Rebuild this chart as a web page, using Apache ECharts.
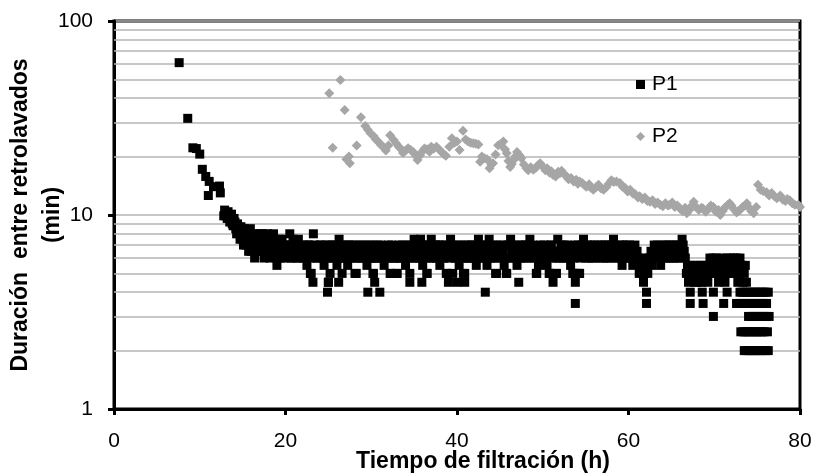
<!DOCTYPE html>
<html><head><meta charset="utf-8">
<script src="https://cdn.jsdelivr.net/npm/echarts@6/dist/echarts.min.js"></script>
<style>html,body{margin:0;padding:0;background:#fff}#c{width:817px;height:474px}</style>
</head><body><div id="c"></div>
<script>
const xTicks = [0, 20, 40, 60, 80];
const yTicks = [1, 10, 100];
const minorGrid = [2, 3, 4, 5, 6, 7, 8, 9, 20, 30, 40, 50, 60, 70, 80, 90];
const seriesNames = ['P1', 'P2'];
const xTitle = 'Tiempo de filtración (h)';
const yTitle = 'Duración  entre retrolavados\n(min)';

// P1: [time h, duration min]
const p1Early = [[7.6,61],[8.6,31.5],[9.2,22.2],[9.6,22],[10.0,20.6],[10.3,17.2],[10.7,15.8],[11.0,12.6],[11.1,14.9],[11.6,14.0],[12.3,14.1],[12.4,13.0],[12.8,9.9],[12.9,10.6]];
const p1Start = [[13.0,10.3],[13.2,9.6],[13.4,10.0],[13.6,9.5],[13.8,9.0],[14.0,9.6],[14.2,8.5],[14.4,9.0],[14.6,8.0],[14.8,8.7],[15.0,7.5],[15.2,8.5],[15.4,7.0],[15.6,8.0],[15.8,7.5],[16.0,6.5],[16.2,8.0],[16.4,6.0],[16.6,7.5],[16.8,8.0],[17.0,7.0],[17.2,6.5],[17.4,8.0],[17.6,7.0],[17.8,6.5],[18.0,7.5],[18.2,6.0],[18.4,7.0],[18.6,8.0],[18.8,6.5],[19.0,5.5],[19.2,7.0],[19.4,6.0],[19.6,7.5],[19.8,6.5],
[13.1,9.9],[13.3,10.4],[13.5,9.2],[13.7,10.1],[13.9,8.8],[14.1,9.2],[14.3,8.0],[14.5,8.7],[14.7,7.5],[14.9,8.0],[15.1,7.0],[15.3,8.0],[15.5,7.5],[15.7,6.5],[15.9,8.5],[16.1,7.0],[16.3,7.5],[16.5,6.5],[16.7,7.0],[16.9,6.5],[17.1,8.0],[17.3,7.5],[17.5,6.0],[17.7,7.5],[17.9,8.0],[18.1,6.5],[18.3,7.5],[18.5,6.5],[18.7,7.0],[18.9,6.0],[19.1,6.5],[19.3,7.5],[19.5,6.5],[19.7,6.0],[19.9,7.0]];
const p1Band = [[20.0,7],[20.25,6.5],[20.5,8],[20.75,6],[21.0,7],[21.25,6.5],[21.5,7.5],[21.75,6],[22.0,6.5],[22.25,7],[22.5,5.5],[22.75,7],[23.0,5],[23.25,8],[23.5,6.5],[23.75,6],[24.0,7],[24.25,6.5],[24.5,5.5],[24.75,7],[25.0,4.5],[25.25,6],[25.5,7],[25.75,6.5],[26.0,5.5],[26.25,7.5],[26.5,6],[26.75,6.5],[27.0,7],[27.25,5.5],[27.5,6.5],[27.75,7],[28.0,6],[28.25,5],[28.5,6.5],[28.75,7],[29.0,6],[29.25,6.5],[29.5,5.5],[29.75,7],[30.0,6],[30.25,5],[30.5,6.5],[30.75,7],[31.0,6],[31.25,6.5],[31.5,5.5],[31.75,6.5],[32.0,7],[32.25,5],[32.5,6],[32.75,6.5],[33.0,5],[33.25,7],[33.5,6],[33.75,6.5],[34.0,5.5],[34.25,7],[34.5,5],[34.75,6.5],[35.0,7.5],[35.25,6],[35.5,7],[35.75,7.5],[36.0,5.5],[36.25,7],[36.5,5],[36.75,6.5],[37.0,7.5],[37.25,6],[37.5,7],[37.75,6.5],[38.0,5.5],[38.25,7],[38.5,6],[38.75,5],[39.0,6.5],[39.25,7.5],[39.5,5],[39.75,6],[40.0,7],[40.25,5.5],[40.5,6.5],[40.75,5],[41.0,7],[41.25,6],[41.5,6.5],[41.75,7],[42.0,6],[42.25,5.5],[42.5,7.5],[42.75,6.5],[43.0,6],[43.25,7],[43.5,5.5],[43.75,7.5],[44.0,6.5],[44.25,6],[44.5,5],[44.75,7],[45.0,6.5],[45.25,6],[45.5,5.5],[45.75,5],[46.0,7],[46.25,7.5],[46.5,6],[46.75,6.5],[47.0,5.5],[47.25,7],[47.5,6.5],[47.75,6],[48.0,7],[48.25,6.5],[48.5,7.5],[48.75,6],[49.0,6.5],[49.25,5],[49.5,5.5],[49.75,7],[50.0,6],[50.25,6.5],[50.5,5.5],[50.75,5],[51.0,7],[51.25,6.5],[51.5,5],[51.75,7.5],[52.0,6],[52.25,6.5],[52.5,7],[52.75,6],[53.0,6.5],[53.25,5.5],[53.5,5],[53.75,7],[54.0,5],[54.25,5],[54.5,6.5],[54.75,7.5],[55.0,6],[55.25,7],[55.5,6.5],[55.75,6],[56.0,7],[56.25,6.5],[56.5,7],[56.75,6],[57.0,6.5],[57.25,7],[57.5,6],[57.75,6.5],[58.0,7],[58.25,7.5],[58.5,6],[58.75,6.5],[59.0,7],[59.25,5.5],[59.5,6.5],[59.75,7],[60.0,6],[60.25,6.5],[60.5,5.5],[60.75,7],[61.0,6.5],[61.25,5],[61.5,6],[61.75,4.5],[62.0,5.5]];
const p1Fill = [[20.125,6.5],[20.375,7],[20.625,6],[20.875,7.5],[21.125,6.5],[21.375,6],[21.625,7],[21.875,6.5],[22.125,6],[22.375,6.5],[22.625,7],[22.875,6],[23.125,6.5],[23.375,7],[23.625,6],[23.875,6.5],[24.125,7],[24.375,6],[24.625,6.5],[24.875,6],[25.125,7],[25.375,6.5],[25.625,6],[25.875,7],[26.125,6.5],[26.375,6],[26.625,7],[26.875,6],[27.125,6.5],[27.375,7],[27.625,6],[27.875,6.5],[28.125,7],[28.375,6],[28.625,6.5],[28.875,6],[29.125,7],[29.375,6],[29.625,6.5],[29.875,6],[30.125,7],[30.375,6],[30.625,6],[30.875,6.5],[31.125,7],[31.375,6],[31.625,6.5],[31.875,6],[32.125,6.5],[32.375,7],[32.625,6],[32.875,6],[33.125,6.5],[33.375,6],[33.625,7],[33.875,6],[34.125,6.5],[34.375,6],[34.625,7],[34.875,6],[35.125,6.5],[35.375,7],[35.625,6],[35.875,6.5],[36.125,7],[36.375,6],[36.625,7],[36.875,6],[37.125,6.5],[37.375,7],[37.625,6],[37.875,7],[38.125,6.5],[38.375,6],[38.625,7],[38.875,6.5],[39.125,6],[39.375,7],[39.625,6.5],[39.875,6],[40.125,6.5],[40.375,7],[40.625,6],[40.875,6.5],[41.125,6],[41.375,7],[41.625,6],[41.875,6.5],[42.125,7],[42.375,6],[42.625,6.5],[42.875,7],[43.125,6],[43.375,6.5],[43.625,7],[43.875,6],[44.125,7],[44.375,6.5],[44.625,6],[44.875,6.5],[45.125,7],[45.375,6.5],[45.625,6],[45.875,7],[46.125,6],[46.375,6.5],[46.625,7],[46.875,6],[47.125,6.5],[47.375,6],[47.625,7],[47.875,6.5],[48.125,6],[48.375,7],[48.625,6.5],[48.875,7],[49.125,6],[49.375,6.5],[49.625,6],[49.875,6.5],[50.125,7],[50.375,6],[50.625,6.5],[50.875,7],[51.125,6],[51.375,6.5],[51.625,6],[51.875,6.5],[52.125,7],[52.375,6],[52.625,6.5],[52.875,7],[53.125,6],[53.375,6.5],[53.625,6],[53.875,6.5],[54.125,7],[54.375,6],[54.625,7],[54.875,6.5],[55.125,6.5],[55.375,6],[55.625,7],[55.875,6.5],[56.125,6],[56.375,6.5],[56.625,6.5],[56.875,7],[57.125,6],[57.375,6.5],[57.625,7],[57.875,6],[58.125,6.5],[58.375,7],[58.625,6.5],[58.875,6],[59.125,6.5],[59.375,7],[59.625,6],[59.875,6.5],[60.125,7],[60.375,6],[60.625,6.5],[60.875,6],[61.125,6],[61.375,5.5],[61.625,5],[61.875,5]];
const p1Low = [[23.2,4.5],[25.0,4.5],[26.2,4.5],[30.4,4.5],[34.5,4.5],[35.9,4.5],[39.0,4.5],[40.0,4.5],[40.9,4.5],[47.2,4.5],[51.2,4.5],[53.8,4.5],[24.9,4],[29.6,4],[31.0,4],[43.3,4],[53.8,3.5],[22.9,5],[25.2,5],[26.6,5],[28.1,5],[30.2,5],[32.2,5],[33.0,5],[36.5,5],[38.9,5],[40.9,5],[44.6,5],[45.8,5],[49.3,5],[50.8,5],[51.6,5],[53.6,5],[54.3,5],[61.6,5.5],[62.1,4],[62.1,3.5]];
const p1End = [[62.25,5],[62.5,6],[62.75,5.5],[63.0,7],[63.25,6],[63.5,6.5],[63.75,5.5],[64.0,7],[64.25,6.5],[64.5,6],[64.75,7],[65.0,6.5],[65.25,6],[65.5,7],[65.75,6.5],[66.0,6],[66.25,7.5],[66.5,6.5],[66.75,5],[67.0,4.5],[67.25,5.5],[67.5,5],[67.75,4.5],[68.0,5.5],[68.25,5],[68.5,4.5],[68.75,5.5],[69.0,5],[69.25,4.5],[69.5,6],[69.75,5],[70.0,5.5],[70.25,6],[70.5,4.5],[70.75,5],[71.0,5.5],[71.25,4.5],[71.5,6],[71.75,5],[72.0,5.5],[72.25,6],[72.5,5],[72.75,4.5],[73.0,6],[73.25,5.5],[73.5,5],[73.75,4.5],
[62.375,6],[62.625,6.5],[62.875,6],[63.125,6.5],[63.375,7],[63.625,6],[63.875,6.5],[64.125,6],[64.375,7],[64.625,6.5],[64.875,6],[65.125,7],[65.375,6.5],[65.625,6],[65.875,7],[66.125,6.5],[66.375,7],[66.625,6],[66.875,5.5],[67.125,5],[67.375,5],[67.625,5.5],[67.875,5],[68.125,4.5],[68.375,5.5],[68.625,5],[68.875,5],[69.125,5.5],[69.375,5],[69.625,5.5],[69.875,6],[70.125,5],[70.375,5.5],[70.625,5],[70.875,6],[71.125,5],[71.375,5.5],[71.625,5.5],[71.875,6],[72.125,5],[72.375,5.5],[72.625,6],[72.875,5],[73.125,5.5],[73.375,4.5],[73.625,5.5],
[67.2,4],[68.6,4],[69.9,4],[71.5,4],[73.0,4],[73.3,4],[73.6,4],[73.9,4],[74.2,4],[74.5,4],[74.8,4],[75.1,4],[75.4,4],[75.7,4],[76.0,4],[76.3,4],
[67.2,3.5],[68.7,3.5],[71.1,3.5],[72.6,3.5],[72.9,3.5],[73.2,3.5],[73.5,3.5],[73.8,3.5],[74.1,3.5],[74.4,3.5],[74.7,3.5],[75.0,3.5],[75.3,3.5],[75.6,3.5],[75.9,3.5],[76.1,3.5],
[69.9,3],[74.0,3],[74.3,3],[74.6,3],[74.9,3],[75.2,3],[75.5,3],[75.8,3],[76.1,3],[76.4,3],
[73.1,2.5],[73.4,2.5],[73.7,2.5],[74.0,2.5],[74.3,2.5],[74.6,2.5],[74.9,2.5],[75.2,2.5],[75.5,2.5],[75.8,2.5],[76.2,2.5],
[73.5,2],[73.8,2],[74.1,2],[74.4,2],[74.7,2],[75.0,2],[75.3,2],[75.6,2],[76.0,2],[76.3,2]];

// P2: [time h, duration min]
const p2Points = [[25.1,42.4],[25.5,22.2],[26.4,49.7],[26.9,34.8],[27.1,19.4],[27.4,20.0],[27.5,18.5],[28.3,22.8],[28.8,31.9],[29.3,28.8],[29.6,27.5],[29.9,26.4],[30.3,25.5],[30.5,24.6],[30.8,23.9],[31.1,23.0],[31.4,22.5],[31.7,21.5],[32.0,22.8],[32.2,25.8],[32.6,24.4],[32.9,23.4],[33.2,22.5],[33.5,21.8],[33.7,20.9],[34.0,21.5],[34.3,22.1],[34.6,21.6],[34.9,21.1],[35.2,20.2],[35.4,19.2],[35.7,20.3],[35.9,21.1],[36.2,22.0],[36.5,21.8],[36.8,21.2],[37.0,22.5],[37.3,22.0],[37.6,22.5],[37.9,21.8],[38.2,21.1],[38.5,20.5],[38.7,20.2],[39.1,22.5],[39.4,24.9],[39.7,23.6],[40.0,23.9],[40.3,21.6],[40.7,27.2],[41.0,24.5],[41.3,23.9],[41.6,23.6],[41.9,23.4],[42.2,23.3],[42.5,23.1],[42.7,18.8],[42.9,20.0],[43.2,19.6],[43.5,19.4],[43.8,17.4],[44.0,18.2],[44.2,18.5],[44.5,20.5],[44.8,22.9],[45.1,23.2],[45.4,23.9],[45.6,21.8],[45.8,20.8],[46.0,19.0],[46.2,17.7],[46.4,18.3],[46.6,19.2],[46.8,20.0],[47.0,21.1],[47.3,20.3],[47.5,19.6],[47.8,18.2],[48.1,17.4],[48.3,17.0],[48.6,17.6],[48.9,17.1],[49.2,17.5],[49.4,18.0],[49.7,18.5],[50.0,17.8],[50.3,17.0],[50.5,17.4],[50.8,16.5],[51.0,16.8],[51.2,16.1],[51.5,15.8],[51.8,16.7],[52.0,16.4],[52.2,16.9],[52.5,16.2],[52.8,15.8],[53.0,15.3],[53.3,15.5],[53.6,14.9],[53.9,15.2],[54.1,14.5],[54.3,14.9],[54.6,14.6],[54.9,14.2],[55.1,14.0],[55.4,14.4],[55.6,13.8],[55.9,13.5],[56.2,13.9],[56.5,14.3],[56.8,13.7],[57.1,13.5],[57.4,13.9],[57.7,14.5],[58.0,15.1],[58.3,14.8],[58.6,14.9],[59.0,14.6],[59.3,14.0],[59.6,13.8],[59.9,13.2],[60.2,13.5],[60.5,12.9],[60.8,12.8],[61.1,12.3],[61.3,12.5],[61.6,12.1],[61.9,12.3],[62.2,11.8],[62.5,11.7],[62.8,11.9],[63.1,11.4],[63.4,11.6],[63.7,11.3],[64.0,11.1],[64.3,11.5],[64.6,11.2],[64.8,11.3],[65.1,11.6],[65.4,11.0],[65.7,11.2],[66.0,10.8],[66.3,10.5],[66.6,10.9],[66.8,10.2],[67.1,10.6],[67.4,11.2],[67.6,11.7],[67.9,11.0],[68.2,10.6],[68.5,10.9],[68.7,10.8],[69.0,10.4],[69.3,10.7],[69.6,11.2],[69.9,11.0],[70.2,10.4],[70.5,10.6],[70.7,10.0],[71.0,10.5],[71.3,11.0],[71.6,11.3],[71.8,11.5],[72.0,11.2],[72.3,10.7],[72.6,10.3],[72.8,10.5],[73.0,10.6],[73.3,11.0],[73.6,11.2],[73.8,11.5],[74.0,11.0],[74.3,10.5],[74.6,10.2],[74.9,11.0],[75.1,14.3],[75.4,13.5],[75.7,13.3],[76.1,13.1],[76.4,12.6],[76.7,13.0],[77.0,12.5],[77.3,12.2],[77.7,12.6],[78.0,12.0],[78.3,11.8],[78.5,12.1],[78.8,11.9],[79.1,11.5],[79.4,11.3],[79.8,11.3],[80.0,11.0]];

const p1Points = [].concat(p1Early, p1Start, p1Band, p1Fill, p1Low, p1End);

const FONT = '"Liberation Sans", Arial, sans-serif';
const chart = echarts.init(document.getElementById('c'), null, {renderer: 'canvas'});
chart.setOption({
  animation: false,
  backgroundColor: '#fff',
  textStyle: {fontFamily: FONT},
  grid: {left: 114, right: 17, top: 21, bottom: 65, show: true, borderColor: '#000', borderWidth: 3, backgroundColor: 'transparent', containLabel: false, outerBoundsMode: 'none'},
  legend: {
    data: seriesNames, orient: 'vertical', left: 631, top: 69, itemGap: 31, zlevel: 2,
    itemWidth: 9, itemHeight: 9, itemStyle: {borderWidth: 0},
    textStyle: {fontSize: 21, color: '#000', fontFamily: FONT, padding: [0,0,0,2]}
  },
  xAxis: {
    type: 'value', min: xTicks[0], max: xTicks[xTicks.length-1], interval: 20,
    axisLine: {show: true, onZero: false, lineStyle: {color: '#000', width: 3}},
    axisTick: {show: true, inside: false, length: 6, lineStyle: {color: '#000', width: 3}},
    axisLabel: {fontSize: 21, color: '#000', margin: 22, fontFamily: FONT},
    splitLine: {show: false}
  },
  yAxis: {
    type: 'log', logBase: 10, min: yTicks[0], max: yTicks[yTicks.length-1],
    axisLine: {show: true, lineStyle: {color: '#000', width: 3}},
    axisTick: {show: true, inside: false, length: 6, lineStyle: {color: '#000', width: 3}},
    axisLabel: {fontSize: 21, color: '#000', margin: 21, fontFamily: FONT},
    splitLine: {show: true, lineStyle: {color: '#b4b4b4', width: 1.5}}
  },
  graphic: [
    {type: 'text', x: 483, y: 462, style: {text: xTitle, fontSize: 23, fontWeight: 'bold', fill: '#000', fontFamily: FONT, textAlign: 'center', textVerticalAlign: 'middle'}},
    {type: 'text', x: 37, y: 215, rotation: Math.PI / 2, style: {text: yTitle, fontSize: 23, fontWeight: 'bold', fill: '#000', fontFamily: FONT, lineHeight: 32, textAlign: 'center', textVerticalAlign: 'middle'}}
  ],
  series: [
    {type: 'scatter', data: [], silent: true, zlevel: 0, z: 1,
     markLine: {silent: true, symbol: 'none', label: {show: false}, animation: false,
       lineStyle: {color: '#b4b4b4', width: 1.5, type: 'solid'},
       data: minorGrid.map(v => ({yAxis: v}))}},
    {name: seriesNames[0], type: 'scatter', data: p1Points, symbol: 'rect', symbolSize: 9, zlevel: 1,
     itemStyle: {color: '#000', opacity: 1}},
    {name: seriesNames[1], type: 'scatter', data: p2Points, symbol: 'diamond', symbolSize: 10, zlevel: 1,
     itemStyle: {color: '#a6a6a6', opacity: 1}}
  ]
});
</script></body></html>
